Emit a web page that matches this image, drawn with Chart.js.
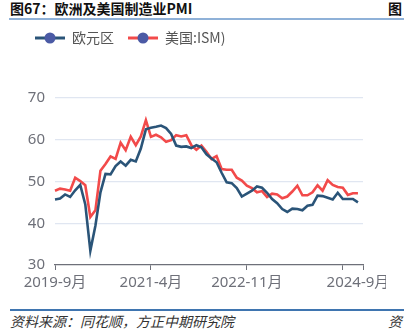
<!DOCTYPE html>
<html>
<head>
<meta charset="utf-8">
<script src="https://cdn.jsdelivr.net/npm/chart.js@4.4.1/dist/chart.umd.min.js"></script>
<style>
  body { margin: 0; background: #fff; width: 404px; height: 331px; overflow: hidden; position: relative; }
  .txt { position: absolute; font-family: "Noto Sans CJK SC", sans-serif; white-space: nowrap; }
  #title { left: 10px; top: -2px; font-size: 14px; font-weight: bold; color: #111; }
  #titleR { left: 388px; top: -2px; font-size: 14px; font-weight: bold; color: #111; }
  #topLine { position: absolute; left: 9px; top: 18px; width: 395px; height: 2px; background: #8fb1d8; }
  #botLine { position: absolute; left: 10px; top: 309px; width: 394px; height: 2px; background: #3f75b0; }
  #source { left: 10px; top: 311px; font-size: 14px; font-style: italic; color: #333; }
  #sourceR { left: 388px; top: 311px; font-size: 14px; font-style: italic; color: #333; }
  #wrap { position: absolute; left: 0; top: 17px; width: 386px; height: 273px; overflow: hidden; }
</style>
</head>
<body>
<div class="txt" id="title">图67：欧洲及美国制造业PMI</div>
<div class="txt" id="titleR">图</div>
<div id="topLine"></div>
<div id="wrap"><canvas id="pmiChart" width="404" height="273"></canvas></div>
<div id="botLine"></div>
<div class="txt" id="source">资料来源：同花顺，方正中期研究院</div>
<div class="txt" id="sourceR">资</div>
<script>
// 2019-9 ... 2024-9, plus one empty slot at the axis end
const months = [
  '2019-9月', '2019-10月', '2019-11月', '2019-12月',
  '2020-1月', '2020-2月', '2020-3月', '2020-4月', '2020-5月', '2020-6月', '2020-7月', '2020-8月', '2020-9月', '2020-10月', '2020-11月', '2020-12月',
  '2021-1月', '2021-2月', '2021-3月', '2021-4月', '2021-5月', '2021-6月', '2021-7月', '2021-8月', '2021-9月', '2021-10月', '2021-11月', '2021-12月',
  '2022-1月', '2022-2月', '2022-3月', '2022-4月', '2022-5月', '2022-6月', '2022-7月', '2022-8月', '2022-9月', '2022-10月', '2022-11月', '2022-12月',
  '2023-1月', '2023-2月', '2023-3月', '2023-4月', '2023-5月', '2023-6月', '2023-7月', '2023-8月', '2023-9月', '2023-10月', '2023-11月', '2023-12月',
  '2024-1月', '2024-2月', '2024-3月', '2024-4月', '2024-5月', '2024-6月', '2024-7月', '2024-8月', '2024-9月', ''
];
const euroPMI = [
  45.7, 45.9, 46.9, 46.3,
  47.9, 49.2, 44.5, 33.4, 39.4, 47.4, 51.8, 51.7, 53.7, 54.8, 53.8, 55.2,
  54.8, 57.9, 62.5, 62.9, 63.1, 63.4, 62.8, 61.4, 58.6, 58.3, 58.4, 58.0,
  58.7, 58.2, 56.5, 55.5, 54.6, 52.1, 49.8, 49.6, 48.4, 46.4, 47.1, 47.8,
  48.8, 48.5, 47.3, 45.8, 44.8, 43.4, 42.7, 43.5, 43.4, 43.1, 44.2, 44.4,
  46.6, 46.5, 46.1, 45.7, 47.3, 45.8, 45.8, 45.8, 45.0
];
const usISM = [
  47.8, 48.3, 48.1, 47.8,
  50.9, 50.1, 49.1, 41.5, 43.1, 52.6, 54.2, 56.0, 55.4, 59.3, 57.5, 60.7,
  58.7, 60.8, 64.7, 60.7, 61.2, 60.6, 59.5, 59.9, 61.1, 60.8, 61.1, 58.7,
  57.6, 58.6, 57.1, 55.4, 56.1, 53.0, 52.8, 52.8, 50.9, 50.2, 49.0, 48.4,
  47.4, 47.7, 46.3, 47.1, 46.9, 46.0, 46.4, 47.6, 49.0, 46.7, 46.7, 47.4,
  49.1, 47.8, 50.3, 49.2, 48.7, 48.5, 46.8, 47.2, 47.2
];
const yTicks = [30, 40, 50, 60, 70];
const labelIdx = [0, 19, 38, 60];
const tickIdx = [0, 19, 38, 57, 61];

const axisGrey = '#6e7079';
const fontFam = "'Noto Sans', 'Noto Sans CJK SC', sans-serif";

// legend icon: short line with a dot on it
function legendIcon(lineColor) {
  const c = document.createElement('canvas');
  c.width = 30; c.height = 12;
  const g = c.getContext('2d');
  g.strokeStyle = lineColor;
  g.lineWidth = 3;
  g.beginPath(); g.moveTo(0, 6); g.lineTo(30, 6); g.stroke();
  g.fillStyle = '#4b5aa5';
  g.beginPath(); g.arc(15, 6, 5.5, 0, Math.PI * 2); g.fill();
  return c;
}

const ctx = document.getElementById('pmiChart').getContext('2d');
const myChart = new Chart(ctx, {
  type: 'line',
  data: {
    labels: months,
    datasets: [
      { label: '欧元区', data: euroPMI, borderColor: '#2a5478', borderWidth: 2.6, pointRadius: 0, tension: 0 },
      { label: '美国:ISM)', data: usISM, borderColor: '#f24a4a', borderWidth: 2.6, pointRadius: 0, tension: 0 }
    ]
  },
  options: {
    responsive: false,
    animation: false,
    layout: { padding: { left: 21, right: 41, top: 0, bottom: 0 } },
    plugins: {
      tooltip: { enabled: false },
      legend: {
        position: 'top',
        align: 'start',
        labels: {
          usePointStyle: true,
          pointStyleWidth: 30,
          boxHeight: 12,
          padding: 14,
          color: '#555',
          font: { size: 14, family: "'Noto Sans CJK SC', sans-serif" },
          generateLabels: function (chart) {
            return chart.data.datasets.map(function (ds, i) {
              return { text: ds.label, pointStyle: legendIcon(ds.borderColor), datasetIndex: i, hidden: false, lineWidth: 0, fontColor: '#555' };
            });
          }
        }
      }
    },
    scales: {
      x: {
        grid: {
          drawOnChartArea: false,
          drawTicks: true,
          tickLength: 5,
          tickColor: function (c) { return tickIdx.includes(c.index) ? axisGrey : 'rgba(0,0,0,0)'; }
        },
        border: { color: axisGrey, width: 1.3 },
        ticks: {
          autoSkip: false,
          maxRotation: 0,
          padding: 4,
          color: axisGrey,
          font: { size: 15, family: fontFam },
          callback: function (v, i) { return labelIdx.includes(i) ? months[i] : ''; }
        },
        afterFit: function (s) { s.height = 25; }
      },
      y: {
        min: 30,
        max: 70,
        afterBuildTicks: function (s) { s.ticks = yTicks.map(function (v) { return { value: v }; }); },
        grid: {
          drawTicks: false,
          color: function (c) { return c.tick && c.tick.value === 30 ? 'rgba(0,0,0,0)' : '#e0e6f1'; },
          lineWidth: 1.3
        },
        border: { display: false },
        ticks: { padding: 10, color: axisGrey, font: { size: 15, family: fontFam } },
        afterFit: function (s) { s.width = 34; }
      }
    }
  },
  plugins: [{
    id: 'legendGap',
    beforeInit: function (chart) {
      const fit = chart.legend.fit;
      chart.legend.fit = function () {
        fit.call(this);
        this.height += 43;
      };
    }
  }]
});
</script>
</body>
</html>
